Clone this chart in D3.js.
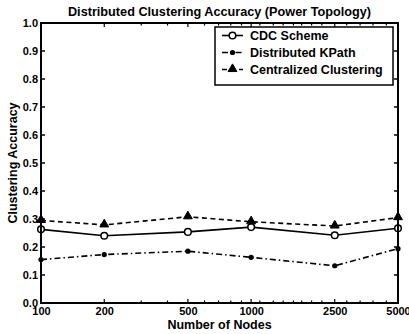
<!DOCTYPE html>
<html><head><meta charset="utf-8">
<script src="https://cdn.jsdelivr.net/npm/d3@7"></script>
<style>
html,body{margin:0;padding:0;background:#fff;}
svg{display:block;font-family:"Liberation Sans",Arial,sans-serif;font-weight:bold;}
</style></head>
<body>
<svg id="c" width="409" height="334"></svg>
<script>
const nodes = [100, 200, 500, 1000, 2500, 5000];
const cdc = [0.263, 0.240, 0.254, 0.271, 0.242, 0.267];
const kpath = [0.155, 0.173, 0.185, 0.163, 0.133, 0.194];
const central = [0.295, 0.279, 0.308, 0.290, 0.275, 0.305];
const seriesNames = ["CDC Scheme", "Distributed KPath", "Centralized Clustering"];
const yTicks = [0, 0.1, 0.2, 0.3, 0.4, 0.5, 0.6, 0.7, 0.8, 0.9, 1.0];
const xMinorTicks = [300, 400, 600, 700, 800, 900, 1100, 1275, 1420, 1590, 1740, 1940, 2170, 2850, 3300, 3800, 4400];
const title = "Distributed Clustering Accuracy (Power Topology)";
const xLabel = "Number of Nodes";
const yLabel = "Clustering Accuracy";

const svg = d3.select("#c");
const L = 41, R = 398, T = 23, B = 303;
const x = d3.scaleLog().domain([100, 5000]).range([L, R]);
const y = d3.scaleLinear().domain([0, 1]).range([B, T]);
const FF = "Liberation Sans, Arial, sans-serif";

// ticks
const g = svg.append("g");
const tickLen = 4;
yTicks.forEach(v => {
  g.append("line").attr("x1", L).attr("x2", L + tickLen).attr("y1", y(v)).attr("y2", y(v)).attr("stroke", "#000").attr("stroke-width", 1.5);
  g.append("line").attr("x1", R).attr("x2", R - tickLen).attr("y1", y(v)).attr("y2", y(v)).attr("stroke", "#000").attr("stroke-width", 1.5);
});
nodes.concat(xMinorTicks).forEach(v => {
  const len = nodes.includes(v) ? tickLen : 2.5;
  g.append("line").attr("x1", x(v)).attr("x2", x(v)).attr("y1", B).attr("y2", B - len).attr("stroke", "#000").attr("stroke-width", 1.2);
  g.append("line").attr("x1", x(v)).attr("x2", x(v)).attr("y1", T).attr("y2", T + len).attr("stroke", "#000").attr("stroke-width", 1.2);
});

// y axis labels
const yAxis = d3.axisLeft(y).tickValues(yTicks).tickFormat(d3.format(".1f")).tickSize(0).tickPadding(3);
const ya = svg.append("g").attr("transform", `translate(${L},0)`).call(yAxis);
ya.select(".domain").remove();
ya.selectAll("text").attr("font-size", 11).attr("font-weight", "bold").attr("font-family", FF).attr("fill", "#000");

const xAxis = d3.axisBottom(x).tickValues(nodes).tickFormat(d3.format("d")).tickSize(0).tickPadding(4);
const xa = svg.append("g").attr("transform", `translate(0,${B})`).call(xAxis);
xa.select(".domain").remove();
xa.selectAll("text").attr("font-size", 11).attr("font-weight", "bold").attr("font-family", FF).attr("fill", "#000");

// lines
const line = d3.line().x((d, i) => x(nodes[i])).y(d => y(d));
const styles = [
  {data: cdc, dash: null},
  {data: kpath, dash: "6,3,1.5,3"},
  {data: central, dash: "5,3.5"}
];
styles.forEach(s => {
  svg.append("path").datum(s.data).attr("d", line).attr("fill", "none").attr("stroke", "#000").attr("stroke-width", 1.6)
    .attr("stroke-dasharray", s.dash);
});

const tri = d3.symbol().type(d3.symbolTriangle).size(34);
function marker(sel, k, cx, cy) {
  if (k === 0) sel.append("circle").attr("cx", cx).attr("cy", cy).attr("r", 3.3).attr("fill", "#fff").attr("stroke", "#000").attr("stroke-width", 1.5);
  else if (k === 1) sel.append("circle").attr("cx", cx).attr("cy", cy).attr("r", 2.6).attr("fill", "#000");
  else sel.append("path").attr("d", tri).attr("transform", `translate(${cx},${cy - 0.5})`).attr("fill", "#000").attr("stroke", "#000").attr("stroke-width", 1);
}
styles.forEach((s, k) => {
  s.data.forEach((v, i) => marker(svg, k, x(nodes[i]), y(v)));
});

// frame
svg.append("rect").attr("x", L).attr("y", T).attr("width", R - L).attr("height", B - T).attr("fill", "none").attr("stroke", "#000").attr("stroke-width", 2);

// legend
const lg = svg.append("g");
lg.append("rect").attr("x", 215).attr("y", 27).attr("width", 178).attr("height", 58).attr("fill", "#fff").attr("stroke", "#000").attr("stroke-width", 1.5);
const legY = [35.5, 52.5, 69.5];
styles.forEach((s, k) => {
  lg.append("line").attr("x1", 222).attr("x2", 243).attr("y1", legY[k]).attr("y2", legY[k]).attr("stroke", "#000").attr("stroke-width", 1.6).attr("stroke-dasharray", s.dash);
  marker(lg, k, 232.5, legY[k]);
  lg.append("text").attr("x", 250).attr("y", legY[k]).attr("dy", "0.36em").attr("font-size", 12.5).text(seriesNames[k]);
});

// titles
svg.append("text").attr("x", (L + R) / 2).attr("y", 16).attr("text-anchor", "middle").attr("font-size", 12.7).text(title);
svg.append("text").attr("x", (L + R) / 2).attr("y", 329).attr("text-anchor", "middle").attr("font-size", 12.5).text(xLabel);
svg.append("text").attr("transform", `translate(17,${(T + B) / 2}) rotate(-90)`).attr("text-anchor", "middle").attr("font-size", 12.5).text(yLabel);
</script>
</body></html>
